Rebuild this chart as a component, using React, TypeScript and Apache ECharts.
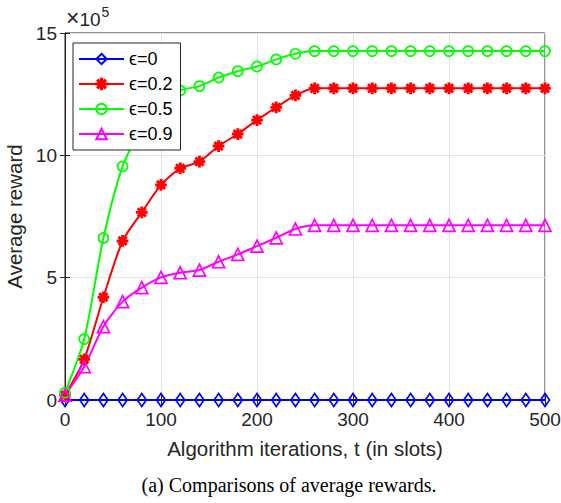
import React, { useEffect, useRef } from "react";
import * as echarts from "echarts";

const tSlots = [0, 20, 40, 60, 80, 100, 120, 140, 160, 180, 200, 220, 240, 260, 280, 300, 320, 340, 360, 380, 400, 420, 440, 460, 480, 500];
const eps0 = [0, 0, 0, 0, 0, 0, 0, 0, 0, 0, 0, 0, 0, 0, 0, 0, 0, 0, 0, 0, 0, 0, 0, 0, 0, 0];
const eps02 = [0.2, 1.66, 4.2, 6.5, 7.67, 8.79, 9.47, 9.74, 10.38, 10.87, 11.44, 11.96, 12.45, 12.74, 12.74, 12.74, 12.74, 12.74, 12.74, 12.74, 12.74, 12.74, 12.74, 12.74, 12.74, 12.74];
const eps05 = [0.3, 2.49, 6.62, 9.55, 11.1, 12.1, 12.65, 12.83, 13.18, 13.44, 13.63, 13.92, 14.15, 14.26, 14.26, 14.26, 14.26, 14.26, 14.26, 14.26, 14.26, 14.26, 14.26, 14.26, 14.26, 14.26];
const eps09 = [0.2, 1.36, 3.0, 4.02, 4.59, 5.01, 5.2, 5.31, 5.65, 5.95, 6.29, 6.63, 6.99, 7.14, 7.14, 7.14, 7.14, 7.14, 7.14, 7.14, 7.14, 7.14, 7.14, 7.14, 7.14, 7.14];
const seriesNames = ["ϵ=0", "ϵ=0.2", "ϵ=0.5", "ϵ=0.9"];
const yTicks = [0, 5, 10, 15];
const xTicks = [0, 100, 200, 300, 400, 500];

const ASTERISK =
  "path://M4.4 0 L5.6 0 L5.6 10 L4.4 10 Z M0 4.4 L10 4.4 L10 5.6 L0 5.6 Z M1.1 1.9 L1.9 1.1 L8.9 8.1 L8.1 8.9 Z M8.1 1.1 L8.9 1.9 L1.9 8.9 L1.1 8.1 Z";

const FONT = "'Liberation Sans', Arial, sans-serif";
const TXT = "#262626";

export default function App() {
  const ref = useRef<HTMLDivElement>(null);
  useEffect(() => {
    if (!ref.current) return;
    const chart = echarts.init(ref.current, undefined, { renderer: "svg" });
    const mk = (vals: number[]) => tSlots.map((t, i) => [t, vals[i]]);
    const lineSeries = (name: string, vals: number[], color: string, symbol: string, size: any, fill: string) => ({
      name,
      type: "line",
      data: mk(vals),
      symbol,
      symbolSize: size,
      smooth: 0.25,
      showAllSymbol: true,
      lineStyle: { color, width: 2 },
      itemStyle: { color: fill, borderColor: color, borderWidth: 1.7 },
      emphasis: { disabled: true },
      z: 3,
    });
    chart.setOption({
      animation: false,
      backgroundColor: "#ffffff",
      grid: {
        left: 65,
        right: 16,
        top: 33,
        bottom: 103,
        containLabel: false,
        outerBoundsMode: "none",
        show: true,
        borderColor: TXT,
        borderWidth: 1,
        backgroundColor: "transparent",
      },
      legend: {
        show: true,
        orient: "vertical",
        left: 73,
        top: 43,
        itemWidth: 45,
        itemHeight: 13,
        itemGap: 7,
        padding: [7, 8, 7, 5],
        backgroundColor: "#ffffff",
        borderColor: TXT,
        borderWidth: 1,
        borderRadius: 0,
        textStyle: { fontFamily: FONT, fontSize: 18, color: "#000" },
        data: seriesNames,
        z: 10,
      },
      xAxis: [
        {
          type: "value",
          min: 0,
          max: 500,
          interval: 100,
          axisLine: { show: true, lineStyle: { color: TXT, width: 1 } },
          axisTick: { show: true, inside: true, length: 5, lineStyle: { color: TXT } },
          axisLabel: { fontFamily: FONT, fontSize: 19, color: TXT, margin: 10, formatter: (v: number) => (xTicks.includes(v) ? String(v) : "") },
          splitLine: { show: true, lineStyle: { color: "#e3e3e3", width: 1 } },
          name: "Algorithm iterations, t (in slots)",
          nameLocation: "middle",
          nameGap: 38,
          nameTextStyle: { fontFamily: FONT, fontSize: 20.5, color: TXT },
        },
        {
          type: "value",
          position: "top",
          min: 0,
          max: 500,
          interval: 100,
          axisLine: { show: true, lineStyle: { color: TXT, width: 1 } },
          axisTick: { show: true, inside: true, length: 5, lineStyle: { color: TXT } },
          axisLabel: { show: false },
          splitLine: { show: false },
        },
      ],
      yAxis: [
        {
          type: "value",
          min: 0,
          max: 15,
          interval: 5,
          axisLine: { show: true, lineStyle: { color: TXT, width: 1 } },
          axisTick: { show: true, inside: true, length: 5, lineStyle: { color: TXT } },
          axisLabel: { fontFamily: FONT, fontSize: 19, color: TXT, margin: 8, formatter: (v: number) => (yTicks.includes(v) ? String(v) : "") },
          splitLine: { show: true, lineStyle: { color: "#e3e3e3", width: 1 } },
          name: "Average reward",
          nameLocation: "middle",
          nameGap: 36,
          nameTextStyle: { fontFamily: FONT, fontSize: 20.5, color: TXT },
        },
        {
          type: "value",
          position: "right",
          min: 0,
          max: 15,
          interval: 5,
          axisLine: { show: true, lineStyle: { color: TXT, width: 1 } },
          axisTick: { show: true, inside: true, length: 5, lineStyle: { color: TXT } },
          axisLabel: { show: false },
          splitLine: { show: false },
        },
      ],
      graphic: [
        {
          type: "text",
          left: 66,
          top: 5,
          style: {
            text: "{x|×}{n|10}{sup|5}",
            fontFamily: FONT,
            fill: TXT,
            rich: {
              x: { fontFamily: FONT, fontSize: 23, fill: TXT, verticalAlign: "bottom" },
              n: { fontFamily: FONT, fontSize: 19, fill: TXT, verticalAlign: "bottom" },
              sup: { fontFamily: FONT, fontSize: 14, fill: TXT, verticalAlign: "top", padding: [0, 0, 10, 1] },
            },
          },
        },
        {
          type: "text",
          x: 289,
          y: 475,
          style: {
            text: "(a) Comparisons of average rewards.",
            fontFamily: "'Liberation Serif', 'Times New Roman', serif",
            fontSize: 20,
            fill: "#000",
            textAlign: "center",
            textVerticalAlign: "top",
          },
        },
      ],
      series: [
        lineSeries(seriesNames[0], eps0, "#0000ff", "diamond", [9, 13], "rgba(255,255,255,0)"),
        lineSeries(seriesNames[1], eps02, "#ff0000", ASTERISK, 10, "#ff0000"),
        lineSeries(seriesNames[2], eps05, "#00ff00", "circle", 10, "rgba(255,255,255,0)"),
        lineSeries(seriesNames[3], eps09, "#ff00ff", "triangle", 12, "rgba(255,255,255,0)"),
      ],
    });
    return () => chart.dispose();
  }, []);
  return <div ref={ref} style={{ position: "fixed", left: 0, top: 0, width: 561, height: 503, background: "#fff" }} />;
}
